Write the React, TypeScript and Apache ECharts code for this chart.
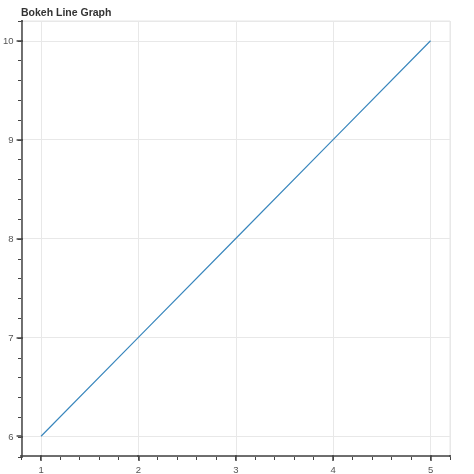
import React, { useEffect, useRef } from "react";
import * as echarts from "echarts";

const xValues = [1, 2, 3, 4, 5];
const yValues = [6, 7, 8, 9, 10];
const titleText = "Bokeh Line Graph";
const xRange = [0.8, 5.2];
const yRange = [5.8, 10.2];

export default function App() {
  const ref = useRef<HTMLDivElement>(null);
  useEffect(() => {
    if (!ref.current) return;
    const chart = echarts.init(ref.current, null, { renderer: "svg" });
    const rect = { left: 21, top: 21, right: 24, bottom: 17 };
    const axisColor = "#444";
    const hidden = {
      axisLine: { show: false },
      axisLabel: { show: false },
      splitLine: { show: false },
    };
    chart.setOption({
      animation: false,
      title: {
        text: titleText,
        left: 16,
        top: 1,
        textStyle: { fontSize: 10.5, fontWeight: "bold", color: "#333", fontFamily: "Liberation Sans, Arial, sans-serif" },
      },
      grid: [
        { ...rect, show: true, borderColor: "#e6e6e6", borderWidth: 1 },
        { ...rect },
        { ...rect },
      ],
      xAxis: [
        {
          type: "value",
          gridIndex: 0,
          min: xRange[0],
          max: xRange[1],
          splitNumber: 4,
          axisLine: { show: true, lineStyle: { color: axisColor, width: 1.5 } },
          axisTick: { show: true, length: 5, lineStyle: { color: axisColor, width: 1.5 } },
          axisLabel: { show: true, showMinLabel: false, showMaxLabel: false, color: "#555", fontSize: 9.5, margin: 8, fontFamily: "Liberation Sans, Arial, sans-serif" },
          splitLine: { show: true, lineStyle: { color: "#e8e8e8", width: 1 } },
        },
        {
          type: "value",
          gridIndex: 1,
          min: xRange[0],
          max: xRange[1],
          interval: 0.2,
          ...hidden,
          axisTick: { show: true, length: 3, lineStyle: { color: axisColor, width: 1 } },
        },
        {
          type: "value",
          gridIndex: 2,
          min: xRange[0],
          max: xRange[1],
          splitNumber: 4,
          ...hidden,
          axisTick: { show: true, inside: true, length: 2, lineStyle: { color: axisColor, width: 1.5 } },
        },
      ],
      yAxis: [
        {
          type: "value",
          gridIndex: 0,
          min: yRange[0],
          max: yRange[1],
          splitNumber: 4,
          axisLine: { show: true, lineStyle: { color: axisColor, width: 1.5 } },
          axisTick: { show: true, length: 5, lineStyle: { color: axisColor, width: 1.5 } },
          axisLabel: { show: true, showMinLabel: false, showMaxLabel: false, color: "#555", fontSize: 9.5, margin: 8, fontFamily: "Liberation Sans, Arial, sans-serif" },
          splitLine: { show: true, lineStyle: { color: "#e8e8e8", width: 1 } },
        },
        {
          type: "value",
          gridIndex: 1,
          min: yRange[0],
          max: yRange[1],
          interval: 0.2,
          ...hidden,
          axisTick: { show: true, length: 3, lineStyle: { color: axisColor, width: 1 } },
        },
        {
          type: "value",
          gridIndex: 2,
          min: yRange[0],
          max: yRange[1],
          splitNumber: 4,
          ...hidden,
          axisTick: { show: true, inside: true, length: 2, lineStyle: { color: axisColor, width: 1.5 } },
        },
      ],
      series: [
        {
          type: "line",
          xAxisIndex: 0,
          yAxisIndex: 0,
          data: xValues.map((x, i) => [x, yValues[i]]),
          symbol: "none",
          lineStyle: { color: "#3a87bd", width: 1.2 },
        },
      ],
    });
    return () => chart.dispose();
  }, []);
  return <div ref={ref} style={{ position: "fixed", left: 0, top: 0, width: 474, height: 474 }} />;
}
